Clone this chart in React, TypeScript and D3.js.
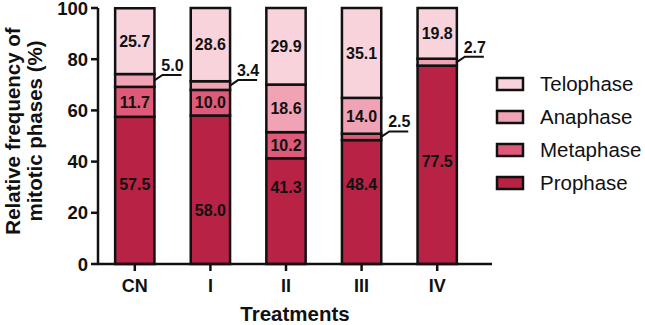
import React from 'react';
import * as d3 from 'd3';

const treatments = ['CN', 'I', 'II', 'III', 'IV'];
const phases = ['Prophase', 'Metaphase', 'Anaphase', 'Telophase'];
const prophase = [57.5, 58.0, 41.3, 48.4, 77.5];
const metaphase = [11.7, 10.0, 10.2, 2.5, 0];
const anaphase = [5.0, 3.4, 18.6, 14.0, 2.7];
const telophase = [25.7, 28.6, 29.9, 35.1, 19.8];
// where GraphPad put the prophase numbers (in % units)
const prophaseLabelAt = [31, 21, 30, 31, 40];
const yTicks = [0, 20, 40, 60, 80, 100];

const colors: Record<string, string> = {
  Prophase: '#b72245',
  Metaphase: '#df5a79',
  Anaphase: '#f0a3b5',
  Telophase: '#f8d3dc',
};

const font = '"Liberation Sans", Arial, Helvetica, sans-serif';

export default function App() {
  const rows = treatments.map((t, i) => ({
    t,
    Prophase: prophase[i],
    Metaphase: metaphase[i],
    Anaphase: anaphase[i],
    Telophase: telophase[i],
  }));
  const series = d3.stack<any>().keys(phases)(rows);

  const x = d3.scaleBand().domain(treatments).range([97, 475]).paddingInner(0.48).paddingOuter(0.24);
  const y = d3.scaleLinear().domain([0, 100]).range([264, 8]);
  const bw = x.bandwidth();
  const axisEnd = 492;

  return (
    <svg width={645} height={325} style={{ position: 'absolute', left: 0, top: 0, background: '#fff' }} fontFamily={font}>
      {/* bars */}
      {series.map((s) =>
        s.map((d, i) => {
          const h = y(d[0]) - y(d[1]);
          if (h <= 0) return null;
          return (
            <rect key={s.key + i} x={x(treatments[i])} y={y(d[1])} width={bw} height={h}
              fill={colors[s.key]} stroke="#111" strokeWidth={2.5} />
          );
        })
      )}
      {/* value labels */}
      {series.map((s) =>
        s.map((d, i) => {
          const v = d[1] - d[0];
          if (v <= 0) return null;
          const x0 = x(treatments[i])!;
          if (v >= 8) {
            const yc = s.key === 'Prophase' ? y(prophaseLabelAt[i]) : y((d[0] + d[1]) / 2);
            return (
              <text key={'l' + s.key + i} x={x0 + bw / 2} y={yc} dy="0.36em" textAnchor="middle"
                fontSize={16} fontWeight="bold" fill="#111">{v.toFixed(1)}</text>
            );
          }
          const x1 = x0 + bw;
          const yc = y((d[0] + d[1]) / 2);
          const yl = yc - 5.5;
          return (
            <g key={'c' + s.key + i}>
              <path d={`M${x1},${yc}L${x1 + 8},${yl}L${x1 + 27},${yl}`} fill="none" stroke="#111" strokeWidth={2} />
              <text x={x1 + 18} y={yl - 4} textAnchor="middle" fontSize={16} fontWeight="bold" fill="#111">{v.toFixed(1)}</text>
            </g>
          );
        })
      )}
      {/* y axis */}
      <line x1={98} x2={98} y1={y(100)} y2={y(0)} stroke="#111" strokeWidth={2.5} />
      {yTicks.map((t) => (
        <g key={t}>
          <line x1={91} x2={98} y1={y(t)} y2={y(t)} stroke="#111" strokeWidth={2.5} />
          <text x={88} y={y(t)} dy="0.36em" textAnchor="end" fontSize={18.5} fontWeight="bold" fill="#111">{t}</text>
        </g>
      ))}
      {/* x axis */}
      <line x1={97} x2={axisEnd} y1={y(0)} y2={y(0)} stroke="#111" strokeWidth={2.5} />
      {treatments.map((t) => (
        <g key={t}>
          <line x1={x(t)! + bw / 2} x2={x(t)! + bw / 2} y1={y(0)} y2={y(0) + 7} stroke="#111" strokeWidth={2.5} />
          <text x={x(t)! + bw / 2} y={292} textAnchor="middle" fontSize={18} fontWeight="bold" fill="#111">{t}</text>
        </g>
      ))}
      <text x={295} y={321} textAnchor="middle" fontSize={20.5} fontWeight="bold" fill="#111">Treatments</text>
      <g transform={`translate(0,131) rotate(-90)`}>
        <text x={0} y={20} textAnchor="middle" fontSize={20.5} fontWeight="bold" fill="#111">Relative frequency of</text>
        <text x={0} y={42} textAnchor="middle" fontSize={20.5} fontWeight="bold" fill="#111">mitotic phases (%)</text>
      </g>
      {/* legend */}
      {phases.slice().reverse().map((p, i) => (
        <g key={p} transform={`translate(497,${84 + i * 33})`}>
          <rect x={0} y={-6} width={26} height={12} fill={colors[p]} stroke="#111" strokeWidth={2.5} />
          <text x={43} y={0} dy="0.36em" fontSize={20.5} fill="#111">{p}</text>
        </g>
      ))}
    </svg>
  );
}
